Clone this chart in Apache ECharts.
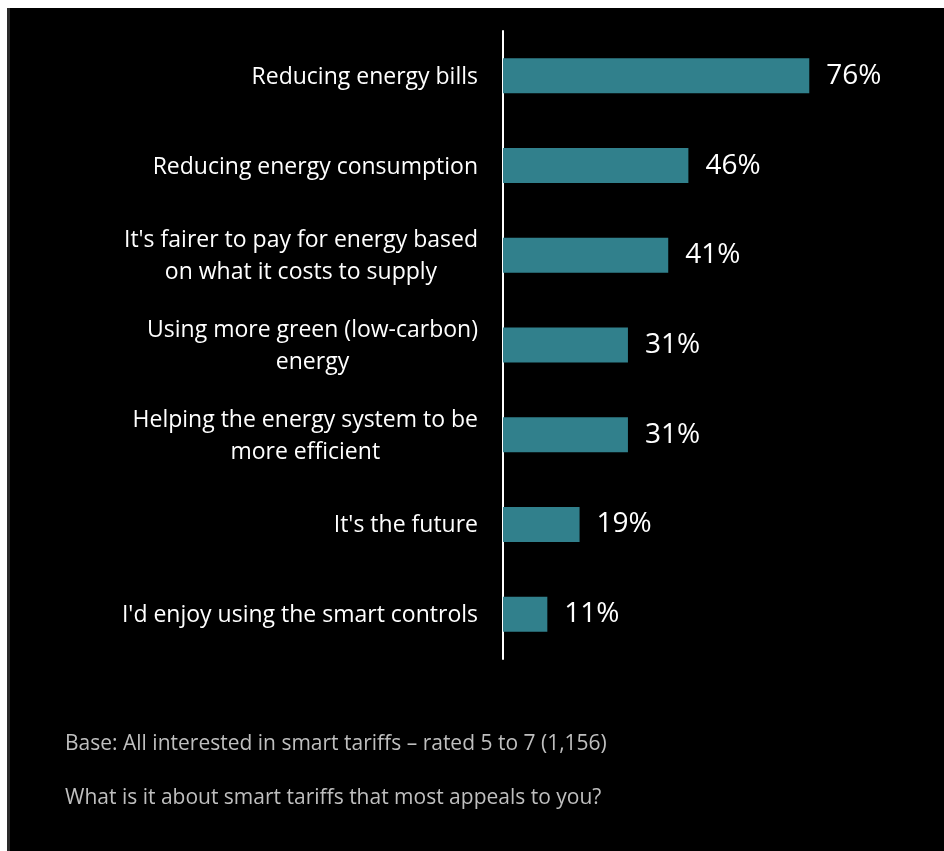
<!DOCTYPE html>
<html>
<head>
<meta charset="utf-8">
<script src="https://cdn.jsdelivr.net/npm/echarts@6/dist/echarts.min.js"></script>
<style>
  html, body { margin: 0; padding: 0; background: #fff; width: 944px; height: 851px; overflow: hidden; }
  #edge { position: absolute; left: 7px; top: 8px; width: 3px; height: 843px; background: #2a2a2a; }
  #main { position: absolute; left: 10px; top: 8px; width: 934px; height: 843px; }
</style>
</head>
<body>
<div id="edge"></div>
<div id="main"></div>
<script>
// categories, top to bottom
const categories = [
    "Reducing energy bills",
    "Reducing energy consumption",
    "It's fairer to pay for energy based\non what it costs to supply",
    "Using more green (low-carbon)\nenergy",
    "Helping the energy system to be\nmore efficient",
    "It's the future",
    "I'd enjoy using the smart controls"
];
const values = [76, 46, 41, 31, 31, 19, 11];
const baseNote = "Base: All interested in smart tariffs \u2013 rated 5 to 7 (1,156)";
const question = "What is it about smart tariffs that most appeals to you?";

const barColor = "#31808c";
const font = "'Open Sans', sans-serif";

let chart = echarts.init(document.getElementById("main"));
let option = {
    backgroundColor: "#000",
    animation: false,
    grid: {
        left: 493,
        top: 23,
        width: 403,
        height: 628
    },
    xAxis: {
        type: "value",
        min: 0,
        max: 100,
        show: false
    },
    yAxis: {
        type: "category",
        inverse: true,
        data: categories,
        axisLine: {
            show: true,
            lineStyle: { color: "#fff", width: 2 }
        },
        axisTick: { show: false },
        axisLabel: {
            margin: 25,
            color: "#fff",
            // centre each line inside the label block, block sits right
            formatter: (v) => v.split("\n").map((l) => "{c|" + l + "}").join("\n"),
            rich: {
                c: {
                    align: "center",
                    color: "#fff",
                    fontFamily: font,
                    fontSize: 23,
                    lineHeight: 32,
                    padding: [3, 0, 0, 0]
                }
            }
        }
    },
    series: [
        {
            type: "bar",
            data: values,
            barWidth: 35,
            itemStyle: { color: barColor },
            label: {
                show: true,
                position: "right",
                distance: 17,
                color: "#fff",
                fontFamily: font,
                fontSize: 28,
                formatter: "{c}%"
            }
        }
    ],
    graphic: [
        {
            type: "text",
            x: 55,
            y: 726,
            style: {
                text: baseNote,
                fill: "#bfbfbf",
                font: "21px 'Open Sans', sans-serif"
            }
        },
        {
            type: "text",
            x: 55,
            y: 780,
            style: {
                text: question,
                fill: "#bfbfbf",
                font: "21px 'Open Sans', sans-serif"
            }
        }
    ]
};
chart.setOption(option);
</script>
</body>
</html>
